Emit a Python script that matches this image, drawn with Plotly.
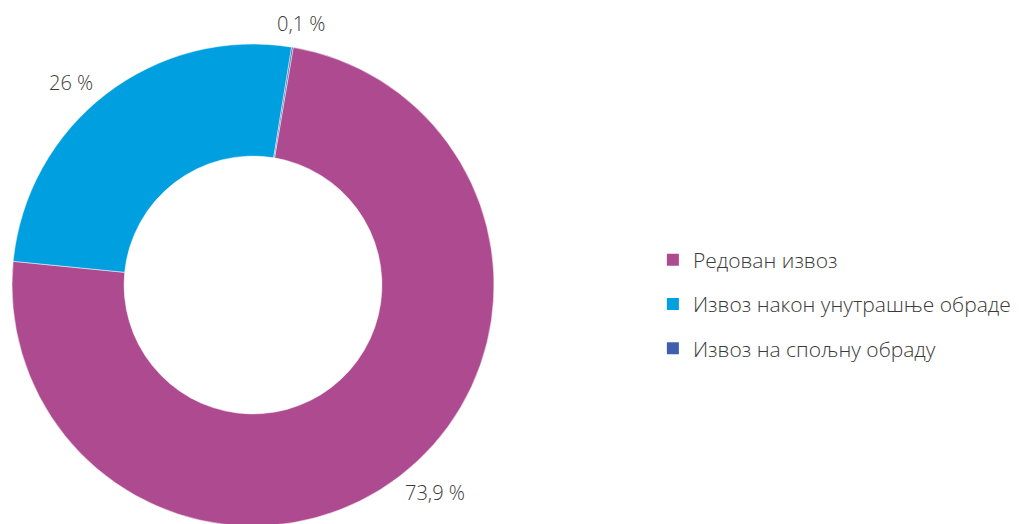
import math

import plotly.graph_objs as go

labels = ["Редован извоз", "Извоз након унутрашње обраде", "Извоз на спољну обраду"]
values = [73.9, 26, 0.1]
value_text = ["73,9 %", "26 %", "0,1 %"]
colors = ["#AE4A8F", "#009FE0", "#3F5FAE"]

font_family = "Open Sans, Noto Sans, sans-serif"
text_color = "#3a3a3a"

W, H = 1022, 524
PAGE_OFFSET = 8  # default body margin of the html page
rotation = 9.6
# wanted ring centre / radius on the page, converted to figure pixels
cx, cy, radius = 253 - PAGE_OFFSET, 285 - PAGE_OFFSET, 241
label_r = [276, 272, 266]
label_nudge = [-4, -4.4, 0.9]  # degrees, to follow the original label placing

donut = go.Pie(
    labels=labels,
    values=values,
    textinfo="none",
    marker=dict(colors=colors, line=dict(color="white", width=0.5)),
    hole=0.535,
    sort=False,
    direction="clockwise",
    rotation=rotation,
    showlegend=False,
    hoverinfo="label+percent",
    domain=dict(x=[(cx - radius) / W, (cx + radius) / W],
                y=[1 - (cy + radius) / H, 1 - (cy - radius) / H]),
)

# value labels outside the ring, near the slice mid angles
annotations = []
total = sum(values)
start = rotation
for v, t, r_lab, nudge in zip(values, value_text, label_r, label_nudge):
    mid = start + 360 * v / total / 2 + nudge
    start += 360 * v / total
    px = cx + r_lab * math.sin(math.radians(mid))
    py = cy - r_lab * math.cos(math.radians(mid))
    annotations.append(dict(
        x=px / W, y=1 - py / H, xref="paper", yref="paper",
        text=t, showarrow=False, xanchor="center", yanchor="middle",
        font=dict(size=20, color=text_color, family=font_family, weight=300),
    ))

# legend entries as separate groups so the gap between rows can be set
legend_traces = []
for name, c in zip(labels, colors):
    legend_traces.append(go.Scatter(
        x=[None], y=[None],
        mode="markers",
        marker=dict(symbol="square", size=12, color=c),
        name=name,
        legendgroup=name,
        hoverinfo="skip",
    ))

layout = go.Layout(
    width=W,
    height=H,
    margin=dict(l=0, r=0, t=0, b=0),
    paper_bgcolor="white",
    plot_bgcolor="white",
    xaxis=dict(visible=False),
    yaxis=dict(visible=False),
    annotations=annotations,
    legend=dict(
        x=0.631, xanchor="left",
        y=0.435, yanchor="middle",
        font=dict(size=21, color=text_color, family=font_family, weight=300),
        tracegroupgap=14,
        traceorder="grouped",
        itemwidth=30,
    ),
    font=dict(family=font_family),
)

fig = go.Figure(data=[donut] + legend_traces, layout=layout)
fig.write_html("out.html")
